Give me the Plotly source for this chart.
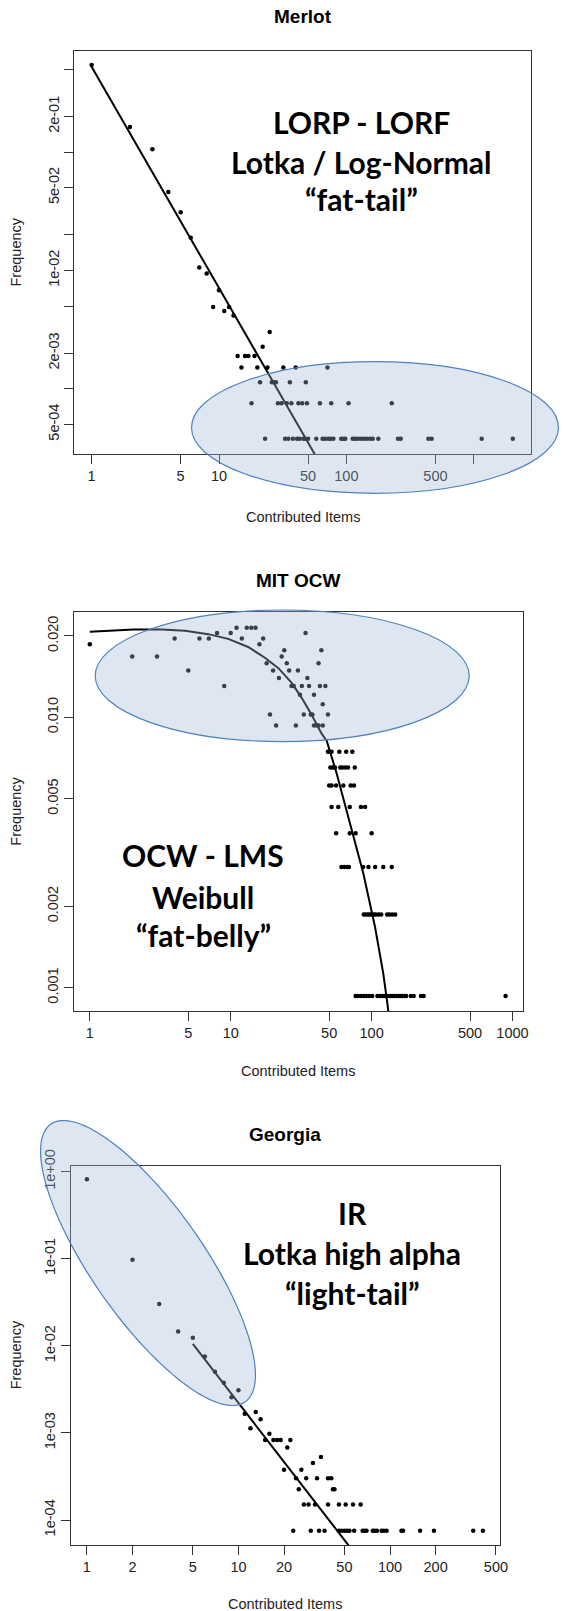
import numpy as np
import plotly.graph_objects as go

W, H = 563, 1611

# ---------------- data ----------------
# Merlot: frequency = count / total
merlot_total = 2650
merlot_items = [1, 2, 3, 4, 5, 6, 7, 8, 9, 10, 11, 12, 13,
                25, 22, 14, 16, 17, 19,
                15, 20, 24, 32, 40, 71,
                21, 26, 27, 28, 36, 48,
                18, 29, 31, 34, 37, 42, 45, 49, 62, 76, 104, 227,
                23, 33, 35, 38, 41, 43, 46, 47, 50, 58, 65, 68, 72, 75, 79, 91, 95, 98,
                112, 117, 122, 129, 136, 144, 153, 161, 178, 254, 267, 440, 467, 1153, 2023]
merlot_counts = [1442, 432, 280, 122, 82, 50, 28, 25, 13, 18, 12, 13, 11,
                 8, 6, 5, 5, 5, 5,
                 4, 4, 4, 4, 4, 4,
                 3, 3, 3, 3, 3, 3,
                 2, 2, 2, 2, 2, 2, 2, 2, 2, 2, 2, 2,
                 1, 1, 1, 1, 1, 1, 1, 1, 1, 1, 1, 1, 1, 1, 1, 1, 1, 1,
                 1, 1, 1, 1, 1, 1, 1, 1, 1, 1, 1, 1, 1, 1, 1]
merlot_fit_items = [1, 57]
merlot_fit_freq = [0.527, 2.74e-4]
merlot_x_ticks = [1, 5, 10, 50, 100, 500, 1000]
merlot_x_labels = ["1", "5", "10", "50", "100", "500", ""]
merlot_y_ticks = [5e-1, 2e-1, 1e-1, 5e-2, 2e-2, 1e-2, 5e-3, 2e-3, 1e-3, 5e-4]
merlot_y_labels = ["", "2e-01", "", "5e-02", "", "1e-02", "", "2e-03", "", "5e-04"]

# MIT OCW
ocw_total = 1073
ocw_items = [1, 2, 3, 4, 5, 6, 7, 8, 9, 10, 11, 12, 13, 14, 15, 16, 17, 18, 19, 20,
             21, 22, 23, 24, 25, 26, 27, 28, 29, 30, 31, 32, 33, 34, 35, 36, 37, 38, 39, 39,
             41, 42, 42, 43, 44, 45, 45, 47, 49,
             49, 50, 52, 59, 66, 73,
             51, 53, 55, 60, 62, 65, 68, 76,
             50, 52, 56, 63, 71, 75,
             52, 58, 70, 84, 90,
             56, 70, 77, 100,
             61, 64, 67, 69, 87, 95, 106, 121, 139,
             88, 91, 94, 97, 100, 104, 107, 112, 117, 129, 134, 140, 147,
             77, 80, 84, 88, 92, 96, 101, 110, 115, 119, 123, 127, 131, 136, 140, 145, 150,
             155, 160, 165, 171, 176, 190, 199, 224, 234, 893]
ocw_counts = [20, 18, 18, 21, 16, 21, 21, 22, 14, 22, 23, 21, 23, 23, 23, 20, 21, 17, 11, 16,
              10, 15, 18, 19, 17, 16, 14, 14, 10, 16, 13, 14, 11, 22, 15, 14, 11, 11, 10, 13,
              10, 17, 10, 14, 19, 10, 12, 14, 11,
              8, 8, 8, 8, 8, 8,
              7, 7, 7, 7, 7, 7, 7, 7,
              6, 6, 6, 6, 6, 6,
              5, 5, 5, 5, 5,
              4, 4, 4, 4,
              3, 3, 3, 3, 3, 3, 3, 3, 3,
              2, 2, 2, 2, 2, 2, 2, 2, 2, 2, 2, 2, 2,
              1, 1, 1, 1, 1, 1, 1, 1, 1, 1, 1, 1, 1, 1, 1, 1, 1,
              1, 1, 1, 1, 1, 1, 1, 1, 1, 1]
ocw_fit_items = [1, 1.43, 2.04, 3.24, 4.74, 6.93, 9.6, 13.3, 17.5, 21.8, 27.1, 31.9,
                 37.6, 44.2, 48, 56.5, 68.4, 87.3, 105.7, 121, 129.2, 133]
ocw_fit_freq = [0.0207, 0.0209, 0.0211, 0.0211, 0.0209, 0.0203, 0.0195, 0.0182, 0.0166,
                0.0152, 0.0134, 0.0118, 0.0102, 0.0087, 0.0082, 0.0062, 0.0043, 0.00265,
                0.00168, 0.00113, 0.00088, 0.00078]
ocw_x_ticks = [1, 5, 10, 50, 100, 500, 1000]
ocw_x_labels = ["1", "5", "10", "50", "100", "500", "1000"]
ocw_y_ticks = [0.001, 0.002, 0.005, 0.010, 0.020]
ocw_y_labels = ["0.001", "0.002", "0.005", "0.010", "0.020"]

# Georgia
georgia_total = 13263
georgia_items = [1, 2, 3, 4, 5, 6, 7, 8, 9, 10, 11, 12, 13, 14, 15, 16, 17, 18, 19, 20,
                 21, 22, 26, 31, 35,
                 24, 28, 33, 39, 41,
                 25, 42, 43,
                 27, 29, 32, 39, 46, 51, 57, 64,
                 23, 30, 34, 37, 46, 48, 50, 52, 54, 58, 66, 68, 70, 77, 79, 82, 88, 91, 95,
                 119, 122, 158, 195, 354, 410]
georgia_counts = [10836, 1290, 400, 193, 164, 100, 67, 50, 34, 41, 22, 15, 23, 19, 11, 13, 11, 11, 11, 5,
                  9, 11, 5, 6, 7,
                  4, 4, 4, 4, 4,
                  3, 3, 3,
                  2, 2, 2, 2, 2, 2, 2, 2,
                  1, 1, 1, 1, 1, 1, 1, 1, 1, 1, 1, 1, 1, 1, 1, 1, 1, 1, 1,
                  1, 1, 1, 1, 1, 1]
georgia_fit_items = [5, 55]
georgia_fit_freq = [0.0105, 4.76e-5]
georgia_x_ticks = [1, 2, 5, 10, 20, 50, 100, 200, 500]
georgia_x_labels = ["1", "2", "5", "10", "20", "50", "100", "200", "500"]
georgia_y_ticks = [1e0, 1e-1, 1e-2, 1e-3, 1e-4]
georgia_y_labels = ["1e+00", "1e-01", "1e-02", "1e-03", "1e-04"]

assert len(merlot_items) == len(merlot_counts)
assert len(ocw_items) == len(ocw_counts)
assert len(georgia_items) == len(georgia_counts)

# ---------------- layout geometry (pixels) ----------------
def px(x):
    return x / W

def py(y):
    return 1 - y / H

panels = [
    dict(title="Merlot", items=merlot_items, counts=merlot_counts, total=merlot_total,
         fx=merlot_fit_items, fy=merlot_fit_freq,
         xt=merlot_x_ticks, xl=merlot_x_labels, yt=merlot_y_ticks, yl=merlot_y_labels,
         box=(74.3, 51, 530.7, 454), xr=(-0.1358, 3.4466), yr=(-3.5521, -0.1455),
         title_y=16.7, xlab_y=516.7,
         text=["LORP - LORF", "Lotka / Log-Normal", "\u201cfat-tail\u201d"],
         text_x=361, text_y=[121.7, 162.3, 199]),
    dict(title="MIT OCW", items=ocw_items, counts=ocw_counts, total=ocw_total,
         fx=ocw_fit_items, fy=ocw_fit_freq,
         xt=ocw_x_ticks, xl=ocw_x_labels, yt=ocw_y_ticks, yl=ocw_y_labels,
         box=(73.6, 612.3, 523.2, 1011), xr=(-0.115, 3.076), yr=(-3.0862, -1.6117),
         title_y=580, xlab_y=1071,
         text=["OCW - LMS", "Weibull", "\u201cfat-belly\u201d"],
         text_x=203, text_y=[855, 896.7, 935]),
    dict(title="Georgia", items=georgia_items, counts=georgia_counts, total=georgia_total,
         fx=georgia_fit_items, fy=georgia_fit_freq,
         xt=georgia_x_ticks, xl=georgia_x_labels, yt=georgia_y_ticks, yl=georgia_y_labels,
         box=(70.7, 1165.7, 499.5, 1545), xr=(-0.1069, 2.7225), yr=(-4.287, 0.0677),
         title_y=1134, xlab_y=1604,
         text=["IR", "Lotka high alpha", "\u201clight-tail\u201d"],
         text_x=352, text_y=[1213, 1253, 1293]),
]

fig = go.Figure()
annotations = []
shapes = []
axis_font = dict(family="Liberation Sans, Arial, sans-serif", size=14.5, color="#222")

for i, p in enumerate(panels, start=1):
    sfx = "" if i == 1 else str(i)
    xa, ya = "x" + sfx, "y" + sfx
    freq = np.array(p["counts"], dtype=float) / p["total"]
    fig.add_trace(go.Scatter(x=p["items"], y=freq, mode="markers", xaxis=xa, yaxis=ya,
                             marker=dict(size=4.5, color="black"), showlegend=False,
                             hoverinfo="x+y"))
    fig.add_trace(go.Scatter(x=p["fx"], y=p["fy"], mode="lines", xaxis=xa, yaxis=ya,
                             line=dict(color="black", width=2), showlegend=False))
    x0, y0, x1, y1 = p["box"]
    common = dict(type="log", showline=True, mirror=True, linecolor="#333", linewidth=1,
                  ticks="outside", ticklen=9, tickwidth=1, tickcolor="#333",
                  showgrid=False, zeroline=False, tickfont=axis_font, automargin=False)
    fig.update_layout(**{
        "xaxis" + sfx: dict(common, domain=[px(x0), px(x1)], range=list(p["xr"]),
                            anchor=ya, tickvals=p["xt"], ticktext=p["xl"]),
        "yaxis" + sfx: dict(common, domain=[py(y1), py(y0)], range=list(p["yr"]),
                            anchor=xa, tickvals=p["yt"], ticktext=p["yl"], tickangle=-90),
    })
    cx = (x0 + x1) / 2
    annotations.append(dict(text="<b>" + p["title"] + "</b>", x=px(cx), y=py(p["title_y"]),
                            xref="paper", yref="paper", showarrow=False,
                            xanchor="center", yanchor="middle",
                            font=dict(family="Liberation Sans, Arial", size=19, color="black")))
    annotations.append(dict(text="Contributed Items", x=px(cx), y=py(p["xlab_y"]),
                            xref="paper", yref="paper", showarrow=False,
                            xanchor="center", yanchor="middle", font=axis_font))
    annotations.append(dict(text="Frequency", x=px(16), y=py((y0 + y1) / 2), textangle=-90,
                            xref="paper", yref="paper", showarrow=False,
                            xanchor="center", yanchor="middle", font=axis_font))
    for t, ty in zip(p["text"], p["text_y"]):
        annotations.append(dict(text="<b>" + t + "</b>", x=px(p["text_x"]), y=py(ty),
                                xref="paper", yref="paper", showarrow=False,
                                xanchor="center", yanchor="middle",
                                font=dict(family="Lato, Carlito, sans-serif", size=30,
                                          color="black")))

ell_fill = "rgba(160,182,214,0.35)"
ell_line = dict(color="#4f81bd", width=1.2)

def ellipse(cx, cy, a, b):
    return dict(type="circle", xref="paper", yref="paper",
                x0=px(cx - a), x1=px(cx + a), y0=py(cy + b), y1=py(cy - b),
                fillcolor=ell_fill, line=ell_line, layer="above")

shapes.append(ellipse(375, 427.5, 183.5, 65.8))
shapes.append(ellipse(282.2, 675.8, 187, 65.8))

# rotated ellipse for Georgia (pixel geometry -> paper)
gcx, gcy, ga, gb, gth = 148, 1263, 169.5, 55.9, np.deg2rad(55)
tt = np.linspace(0, 2 * np.pi, 120)
ex = gcx + ga * np.cos(tt) * np.cos(gth) - gb * np.sin(tt) * np.sin(gth)
ey = gcy + ga * np.cos(tt) * np.sin(gth) + gb * np.sin(tt) * np.cos(gth)
path = "M " + " L ".join(f"{px(a):.5f},{py(b):.5f}" for a, b in zip(ex, ey)) + " Z"
shapes.append(dict(type="path", path=path, xref="paper", yref="paper",
                   fillcolor=ell_fill, line=ell_line, layer="above"))

fig.update_layout(width=W, height=H, margin=dict(l=0, r=0, t=0, b=0, autoexpand=False),
                  paper_bgcolor="white", plot_bgcolor="white",
                  annotations=annotations, shapes=shapes, showlegend=False)

fig.write_html("out.html")
